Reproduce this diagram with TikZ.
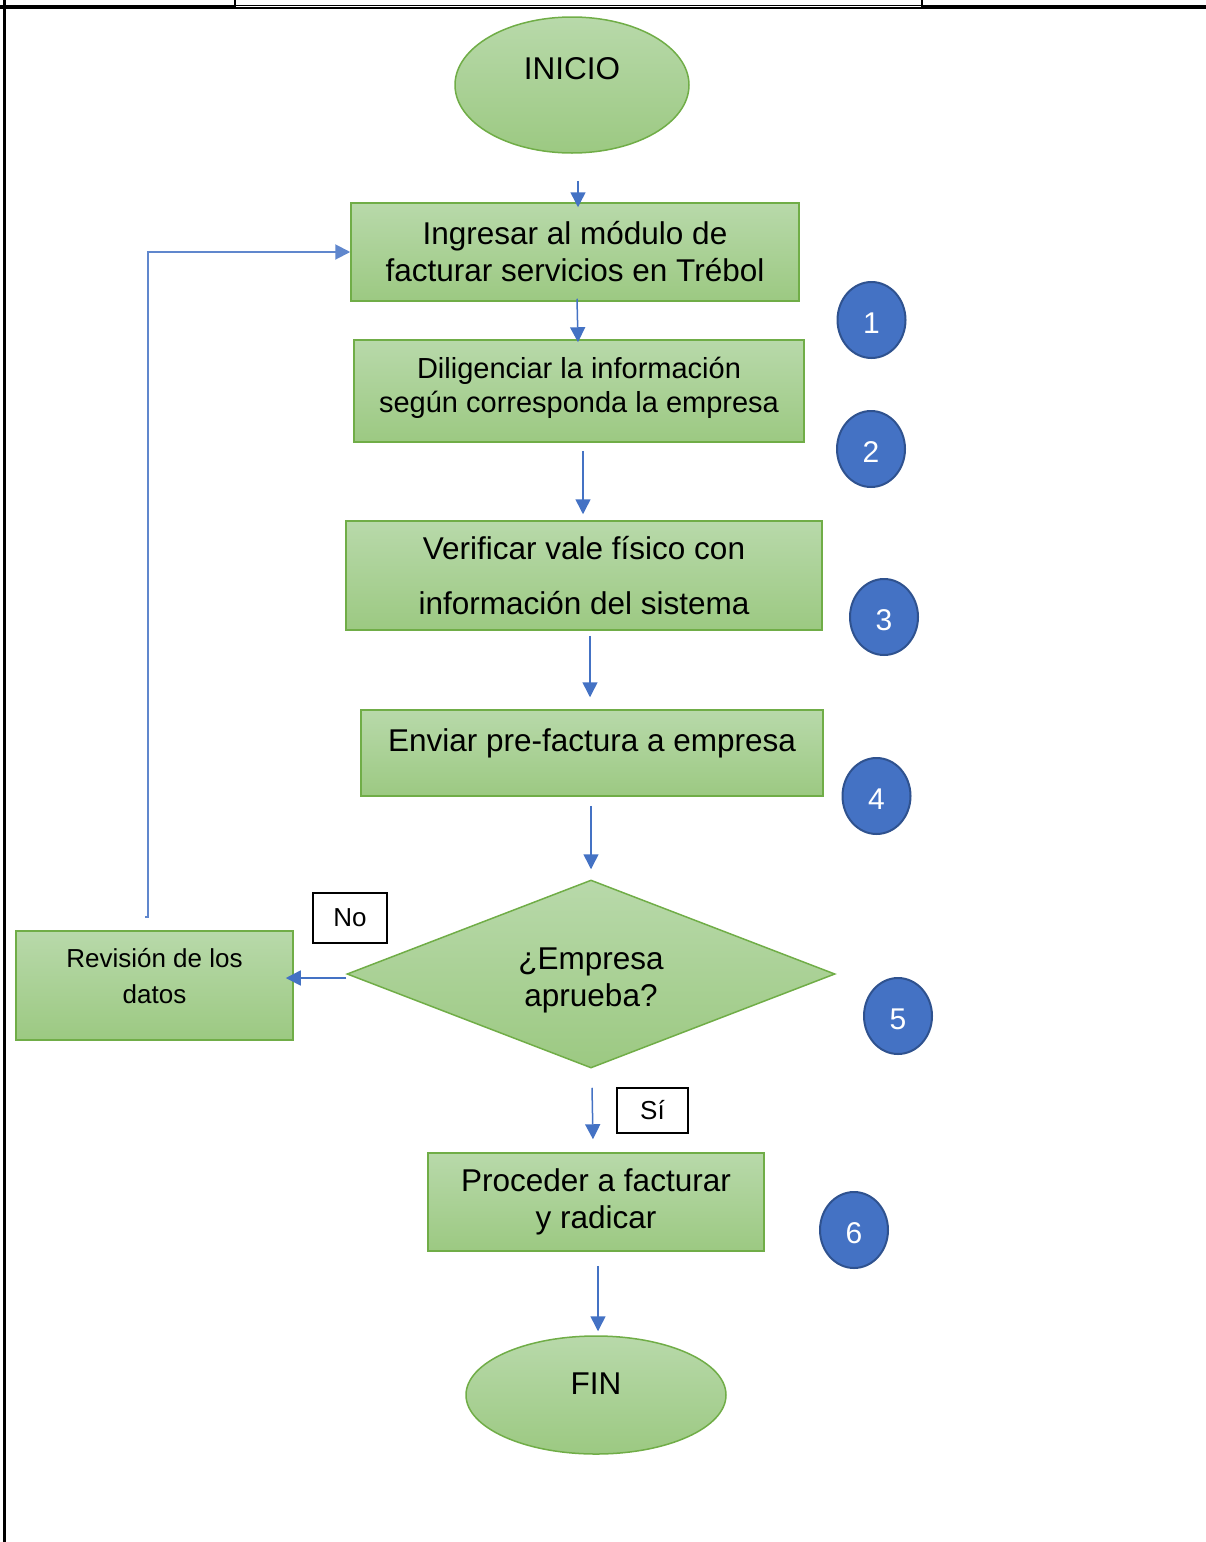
\documentclass[tikz,border=0pt]{standalone}
\usepackage{fontspec}
\setmainfont{Liberation Sans}
\usepackage{xcolor}
\usepackage{tikz}
\usetikzlibrary{arrows.meta, positioning, shapes.geometric, calc}

\definecolor{verdeborde}{HTML}{70AD47}
\definecolor{verdeclaro}{HTML}{B8D9AA}
\definecolor{verdeoscuro}{HTML}{9CC982}
\definecolor{azulpaso}{HTML}{4472C4}
\definecolor{azulborde}{HTML}{2F528F}

\begin{document}
\begin{tikzpicture}[x=1pt, y=-1pt,
  caja/.style={draw=verdeborde, line width=1.5, top color=verdeclaro, bottom color=verdeoscuro,
    inner sep=0pt, align=center, font=\fontsize{31.5}{37}\selectfont},
  terminal/.style={caja, ellipse},
  decision/.style={caja, diamond, aspect=2.6},
  paso/.style={ellipse, fill=azulpaso, draw=azulborde, line width=2, inner sep=0pt,
    minimum width=68, minimum height=76, text=white, font=\fontsize{30}{30}\selectfont,
    text height=26, text depth=0},
  etiqueta/.style={draw=black, line width=1.2, fill=white, inner sep=0pt,
    font=\fontsize{26}{26}\selectfont},
  flujo/.style={draw=azulpaso, line width=1.5, -{Triangle[length=15,width=15]}}]
  \useasboundingbox (0,0) rectangle (1206,1542);

  % Table borders round the diagram
  \draw[line width=4] (0,7) -- (235,7);
  \draw[line width=4] (922,7) -- (1206,7);
  \draw[line width=1.2] (235,5.2) -- (922,5.2);
  \draw[line width=2] (235,8.2) -- (922,8.2);
  \draw[line width=2.4] (235,0) -- (235,9);
  \draw[line width=2.4] (922,0) -- (922,9);
  \draw[line width=2.7] (4.6,0) -- (4.6,1542);

  % Flow steps
  \node[terminal, minimum width=234, minimum height=136, text height=23, text depth=35] (inicio) at (572,85) {INICIO};
  \node[caja, minimum width=448, minimum height=98] (ingresar) at (575,252)
    {Ingresar al módulo de\\facturar servicios en Trébol};
  \node[caja, minimum width=450, minimum height=102, font=\fontsize{29}{34}\selectfont,
    text height=50.8, text depth=8] (diligenciar) at (579,391)
    {Diligenciar la información\\según corresponda la empresa};
  \node[caja, minimum width=476, minimum height=109, font=\fontsize{31.5}{55}\selectfont] (verificar) at (584,575.5)
    {Verificar vale físico con\\información del sistema};
  \node[caja, minimum width=462, minimum height=86, text height=23, text depth=27] (enviar) at (592,753)
    {Enviar pre-factura a empresa};
  \node[decision, minimum width=488, minimum height=188, text height=72.6, text depth=8] (aprueba) at (591,974)
    {¿Empresa\\aprueba?};
  \node[caja, minimum width=277, minimum height=109, font=\fontsize{26}{36}\selectfont,
    text height=43.6, text depth=8] (revision) at (154.5,985.5)
    {Revisión de los\\datos};
  \node[caja, minimum width=336, minimum height=98] (proceder) at (596,1202)
    {Proceder a facturar\\y radicar};
  \node[terminal, minimum width=260, minimum height=118, text height=23, text depth=25] (fin) at (596,1395) {FIN};

  % Decision labels
  \node[etiqueta, minimum width=74, minimum height=50] (etiquetano) at (350,918) {No};
  \node[etiqueta, minimum width=71, minimum height=45] (etiquetasi) at (652.5,1110.5) {Sí};

  % Step numbers
  \node[paso] (paso1) at (871.5,320) {1};
  \node[paso] (paso2) at (871,449) {2};
  \node[paso] (paso3) at (884,617) {3};
  \node[paso] (paso4) at (876.5,796) {4};
  \node[paso] (paso5) at (898,1016) {5};
  \node[paso] (paso6) at (854,1230) {6};

  % Connectors
  \draw[flujo] ([shift={(6,27)}]inicio.south) -- ([shift={(3,5)}]ingresar.north);
  \draw[flujo] ([shift={(2,-3)}]ingresar.south) -- ([shift={(-1,3)}]diligenciar.north);
  \draw[flujo] ([shift={(4,8)}]diligenciar.south) -- ([shift={(-1,-6)}]verificar.north);
  \draw[flujo] ([shift={(6,5)}]verificar.south) -- ([shift={(-2,-12)}]enviar.north);
  \draw[flujo] ([shift={(-1,9)}]enviar.south) -- ([shift={(0,-10)}]aprueba.north);
  \draw[flujo] ([shift={(0,4)}]aprueba.west) -- ([shift={(-8,-7.5)}]revision.east);
  \draw[flujo] ([shift={(1,19)}]aprueba.south) -- ([shift={(-3,-13)}]proceder.north);
  \draw[flujo] ([shift={(2,14)}]proceder.south) -- ([shift={(2,-4)}]fin.north);
  \draw[flujo, draw=azulpaso!85, line width=2] ([shift={(-9.5,-13)}]revision.north) -- ++(3,0) |- (ingresar.west);
\end{tikzpicture}
\end{document}
